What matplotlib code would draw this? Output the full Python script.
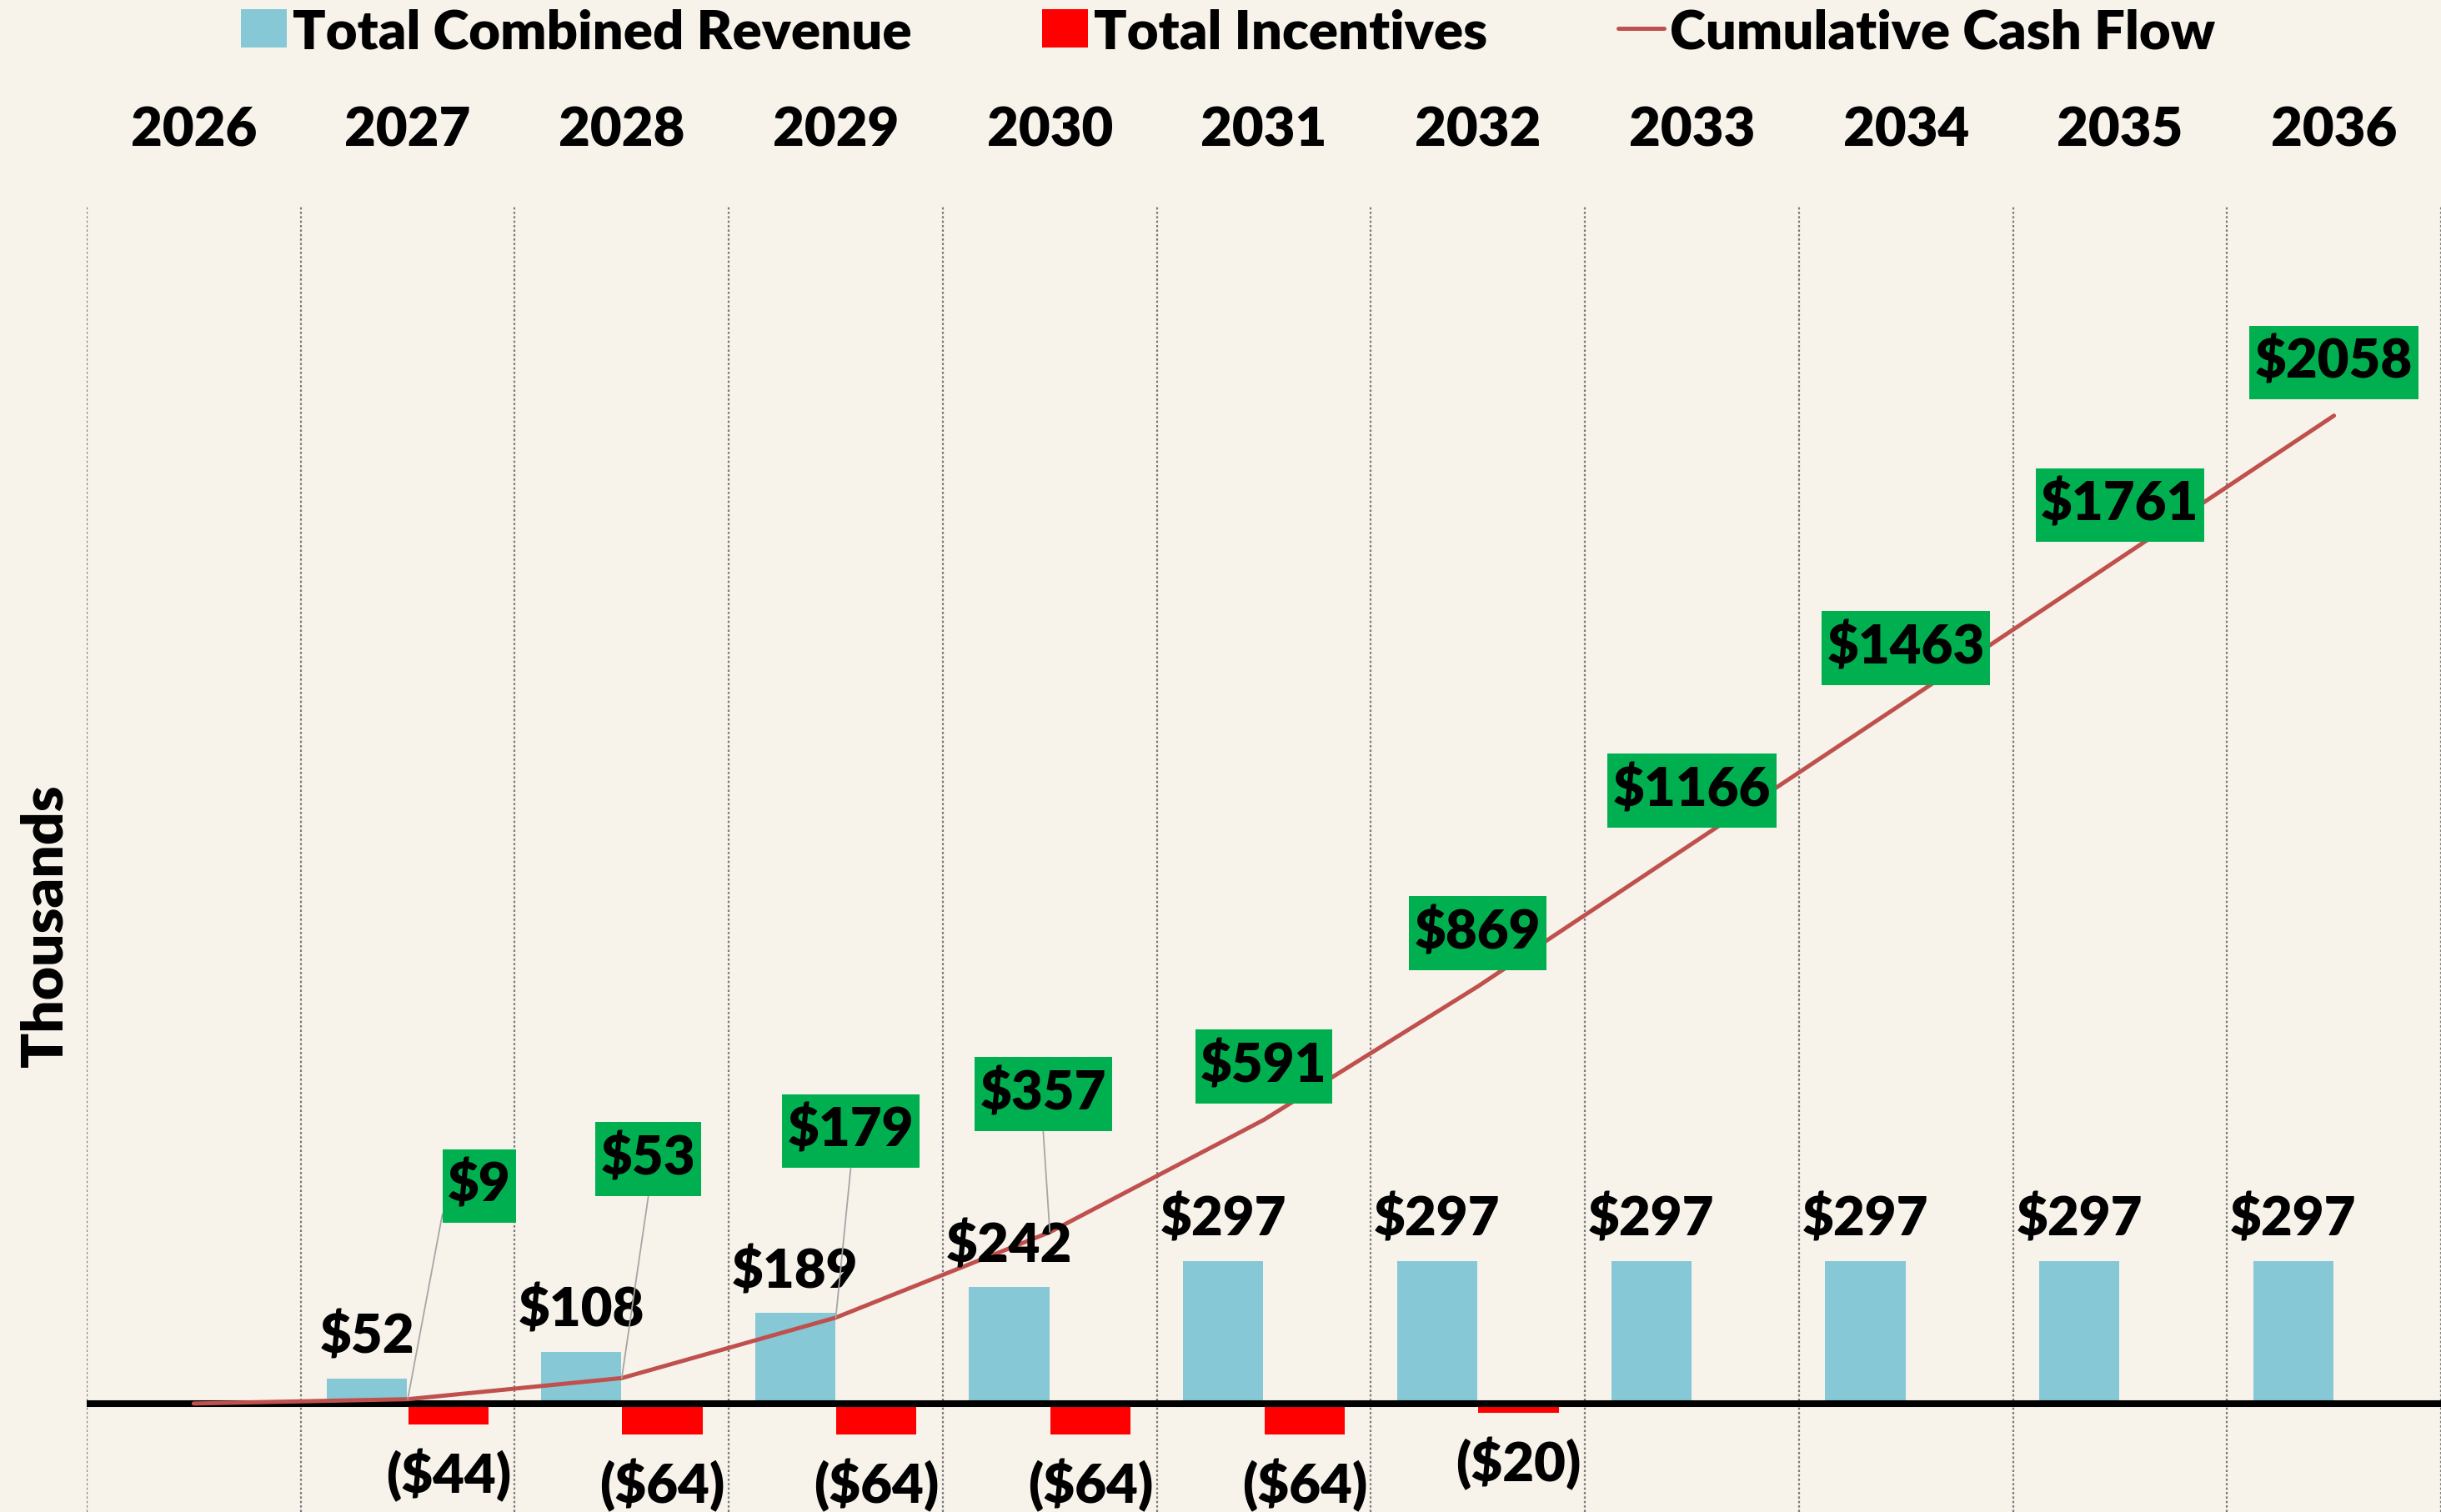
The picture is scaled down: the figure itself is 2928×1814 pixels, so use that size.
import numpy as np
import matplotlib.pyplot as plt
from matplotlib.path import Path

# Data (thousands of $)
years = ['2026', '2027', '2028', '2029', '2030', '2031',
         '2032', '2033', '2034', '2035', '2036']
revenue = [0, 52, 108, 189, 242, 297, 297, 297, 297, 297, 297]
incentives = [0, -44, -64, -64, -64, -64, -20, 0, 0, 0, 0]
cumulative = [0, 9, 53, 179, 357, 591, 869, 1166, 1463, 1761, 2058]

# where the green cash-flow labels sit (pixel offset from the point)
box_offsets = [None, (86, 257), (32, 264), (18, 225), (-8, 167),
               (0, 65), (0, 65), (0, 65), (0, 65), (0, 65), (0, 65)]

bg = '#F7F3EB'
blue = '#86C8D5'
red = '#FF0000'
line_col = '#C0504D'
green = '#00B050'
fs = 47
wt = 780

plt.rcParams['font.family'] = ['Lato', 'DejaVu Sans']
plt.rcParams['font.weight'] = wt


def tall_box(x0, y0, width, height, mutation_size):
    # green label box: a bit more padding top/bottom than left/right
    px = 0.10 * mutation_size
    pb = 0.24 * mutation_size
    pt = 0.20 * mutation_size
    pts = [(x0 - px, y0 - pb), (x0 + width + px, y0 - pb),
           (x0 + width + px, y0 + height + pt), (x0 - px, y0 + height + pt),
           (x0 - px, y0 - pb)]
    return Path(pts, closed=True)


fig = plt.figure(figsize=(29.28, 18.15), dpi=100, facecolor=bg)
ax = fig.add_axes([104 / 2928, 0, 1 - 104 / 2928, 1 - 248 / 1815])
ax.set_facecolor(bg)

x = np.arange(len(years))
w = 0.375
b1 = ax.bar(x - 0.19, revenue, width=w, color=blue, zorder=2,
            label='Total Combined Revenue')
b2 = ax.bar(x + 0.19, incentives, width=w, color=red, zorder=2,
            label='Total Incentives')
ax.axhline(0, color='black', lw=5.8, zorder=2.5)
ln, = ax.plot(x, cumulative, color=line_col, lw=3.6, zorder=3,
              solid_capstyle='round', label='Cumulative Cash Flow')

# bar labels
for i in range(len(years)):
    if revenue[i] != 0:
        ax.annotate(f'${revenue[i]}', (x[i] - 0.19, revenue[i]),
                    xytext=(0, 31), textcoords='offset pixels',
                    ha='center', va='baseline', fontsize=fs, zorder=5)
    if incentives[i] != 0:
        ax.annotate(f'(${-incentives[i]})', (x[i] + 0.19, incentives[i]),
                    xytext=(0, -28), textcoords='offset pixels',
                    ha='center', va='top', fontsize=fs, zorder=5)

# green cash-flow labels
for i in range(len(years)):
    if box_offsets[i] is None:
        continue
    dx, dy = box_offsets[i]
    arrow = None
    if dy > 100:
        rp = (0, 0.5) if i == 1 else (0.5, -0.25)
        arrow = dict(arrowstyle='-', color='#A6A6A6', lw=1.3,
                     relpos=rp, shrinkA=0, shrinkB=0)
    ax.annotate(f'${cumulative[i]}', (x[i], cumulative[i]),
                xytext=(dx, dy), textcoords='offset pixels',
                ha='center', va='center', fontsize=fs, zorder=6,
                bbox=dict(boxstyle=tall_box, fc=green, ec='none'),
                arrowprops=arrow)

ax.set_xlim(-0.5, len(years) - 0.5)
ax.set_ylim(-226, 2495)
ax.set_xticks(x)
ax.set_xticklabels(years, fontsize=fs)
ax.set_xticks(np.arange(-0.5, len(years), 1), minor=True)
ax.tick_params(axis='x', which='both', length=0, top=False, bottom=False,
               labeltop=True, labelbottom=False, pad=44)
ax.set_yticks([])
ax.grid(which='minor', axis='x', color='#7A7A7A', linestyle=(0, (1.2, 1.2)),
        lw=1.6)
for s in ax.spines.values():
    s.set_visible(False)

fig.text(55 / 2928, 1 - 1111 / 1815, 'Thousands', rotation=90,
         ha='center', va='center', fontsize=50)

fig.legend(handles=[b1, b2, ln], loc='upper center',
           bbox_to_anchor=(0.503, 1.016), ncol=3, frameon=False, fontsize=fs,
           handlelength=0.85, handleheight=0.7, handletextpad=0.1,
           columnspacing=2.4, borderpad=0.1)

fig.savefig('out.png', dpi=100, facecolor=bg)
